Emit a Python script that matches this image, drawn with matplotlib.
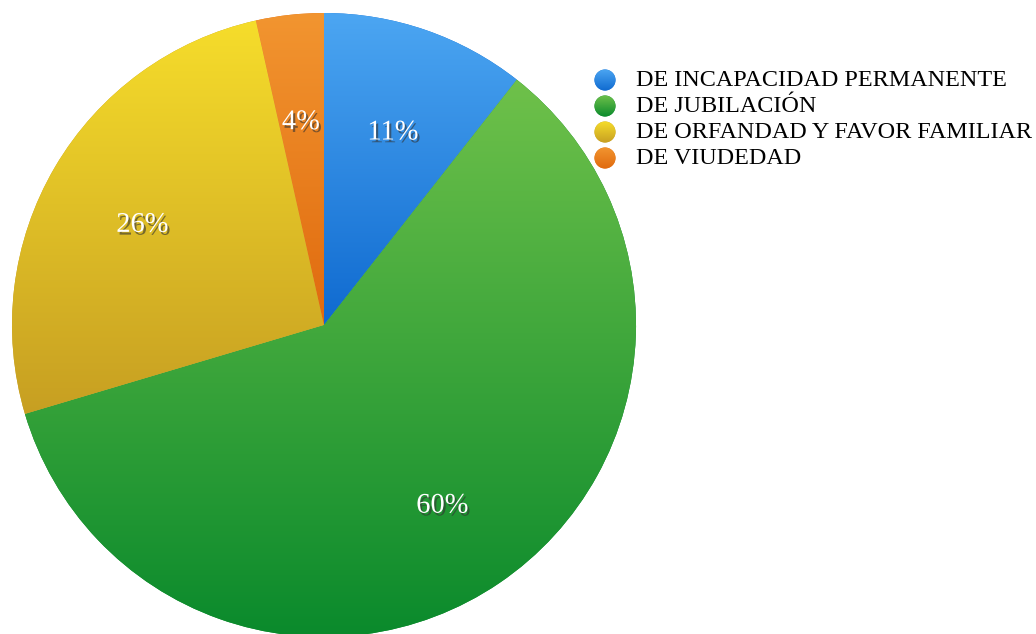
import numpy as np
import matplotlib.pyplot as plt
import matplotlib.patheffects as pe
from matplotlib.colors import LinearSegmentedColormap
from matplotlib.patches import Circle

plt.rcParams['font.family'] = ['Liberation Serif', 'DejaVu Serif']

labels = ['DE INCAPACIDAD PERMANENTE', 'DE JUBILACIÓN',
          'DE ORFANDAD Y FAVOR FAMILIAR', 'DE VIUDEDAD']
values = [10.6, 59.8, 26.1, 3.5]
top_colors = ['#4ca6f2', '#6fc14a', '#f6dd2b', '#f29530']
bottom_colors = ['#0f6ad0', '#0a8a2c', '#c79f22', '#e06a0e']

W, H = 1036, 634
fig = plt.figure(figsize=(W / 100, H / 100), dpi=100)
ax = fig.add_axes([0, 0, 1, 1])

center = (324, 309)
radius = 312

wedges, _, autotexts = ax.pie(values, center=center, radius=radius,
                              startangle=90, counterclock=False,
                              autopct='%.0f%%', pctdistance=0.675,
                              frame=True,
                              wedgeprops=dict(linewidth=0))
ax.set_aspect('equal')
ax.axis('off')

grad = np.linspace(1, 0, 256).reshape(-1, 1)


def gradient_fill(patch, top, bottom, extent):
    cmap = LinearSegmentedColormap.from_list('g', [bottom, top])
    img = ax.imshow(grad, cmap=cmap, aspect='auto', extent=extent,
                    origin='upper', zorder=patch.get_zorder() + 0.1,
                    interpolation='bilinear')
    img.set_clip_path(patch)


# vertical gradient inside every wedge, light on top
for w, ct, cb in zip(wedges, top_colors, bottom_colors):
    w.set_facecolor(cb)
    bb = w.get_path().get_extents()
    gradient_fill(w, ct, cb, [bb.x0, bb.x1, bb.y0, bb.y1])

for t in autotexts:
    x, y = t.get_position()
    t.set_position((x, y - 7))
    t.set_color('white')
    t.set_fontsize(20.5)
    t.set_zorder(5)
    t.set_path_effects([pe.SimplePatchShadow(offset=(1.5, -2), shadow_rgbFace='#333333', alpha=0.6),
                        pe.Normal()])

# legend drawn by hand with gradient dots
for i, (lab, ct, cb) in enumerate(zip(labels, top_colors, bottom_colors)):
    y = H - (80 + 26 * i)
    dot = Circle((605, y), 10.5, facecolor=cb, linewidth=0, zorder=3)
    ax.add_patch(dot)
    gradient_fill(dot, ct, cb, [594, 616, y - 11, y + 11])
    ax.text(636, y - 1, lab, fontsize=17.4, va='center', ha='left', color='black')

ax.set_xlim(0, W)
ax.set_ylim(0, H)
fig.savefig('out.png', dpi=100)
